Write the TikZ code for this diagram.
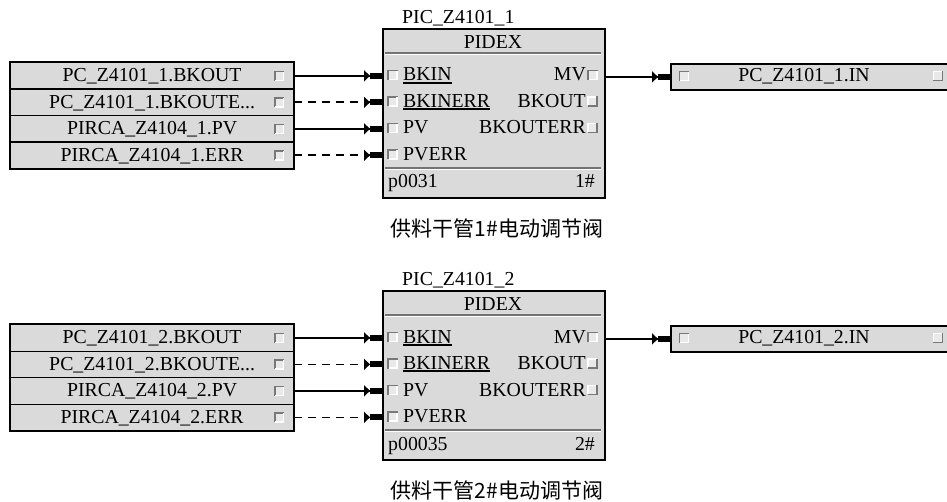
\documentclass[tikz,border=0pt]{standalone}
\usepackage{fontspec}
\setmainfont{Liberation Serif}
\newfontfamily\cjk{Noto Sans CJK SC}
\usetikzlibrary{arrows.meta}
\definecolor{boxgray}{RGB}{218,218,218}
\definecolor{sqdark}{RGB}{120,120,120}
\newcommand\myul[1]{\setbox0\hbox{#1}\rlap{\rule[-2.6pt]{\wd0}{1.8pt}}\box0}
\begin{document}
\begin{tikzpicture}[x=1pt,y=-1pt,
  txt/.style={font=\fontsize{19.8}{20}\selectfont, inner sep=0pt, text height=15pt, text depth=3pt},
  srcbox/.style={txt, draw=black, line width=1.2pt, fill=boxgray, minimum width=283pt, minimum height=26.5pt, anchor=north west},
  outbox/.style={draw=black, line width=1.8pt, fill=boxgray, minimum width=285pt, minimum height=26pt, anchor=north west, inner sep=0pt},
  pidbox/.style={draw=black, line width=2.2pt, fill=boxgray, minimum width=222pt, minimum height=169pt, anchor=north west, inner sep=0pt},
  frame/.style={draw=black, line width=2pt},
  sepdark/.style={draw=black!55, line width=1.3pt},
  seplight/.style={draw=white, line width=1pt},
  conn/.style={draw=black, line width=1.7pt, -{Triangle[length=6pt,width=11pt]Rectangle[length=12pt,width=6pt]}},
  dconn/.style={conn, dash pattern=on 8pt off 6pt},
  sqin/.pic={
    \fill[boxgray!60!white] (-5,-5) rectangle (5,5);
    \draw[sqdark, line width=1.6pt] (-4.5,5) -- (-4.5,-4.5) -- (5,-4.5);
    \draw[white, line width=1.4pt] (4.5,-4) -- (4.5,4.5) -- (-4,4.5);
  },
  sqout/.pic={
    \fill[boxgray!60!white] (-5,-5) rectangle (5,5);
    \draw[white, line width=1.4pt] (-4.5,4) -- (-4.5,-4.5) -- (4,-4.5);
    \draw[sqdark, line width=1.6pt] (4.5,-5) -- (4.5,4.5) -- (-5,4.5);
  }
]
\useasboundingbox (0,0) rectangle (947,502);
\fill[white] (0,0) rectangle (947,502);

\foreach \s/\oy/\pn in {1/0/p0031, 2/262/p00035} {
  % source boxes
  \node[srcbox] (L\s-1) at (10,62+\oy) {PC\_Z4101\_\s.BKOUT};
  \node[srcbox] (L\s-2) at (10,88.5+\oy) {PC\_Z4101\_\s.BKOUTE...};
  \node[srcbox] (L\s-3) at (10,115+\oy) {PIRCA\_Z4104\_\s.PV};
  \node[srcbox] (L\s-4) at (10,141.5+\oy) {PIRCA\_Z4104\_\s.ERR};
  \draw[frame] (L\s-1.north west) rectangle (L\s-4.south east);
  \foreach \k in {1,2,3,4} { \pic at ([xshift=-15pt]L\s-\k.east) {sqin}; }

  % PID block
  \node[txt, anchor=west] (T\s) at (402,18+\oy) {PIC\_Z4101\_\s};
  \node[pidbox] (P\s) at (382,28+\oy) {};
  \node[txt] (P\s-h) at (493,43+\oy) {PIDEX};
  \draw[sepdark] (385,53+\oy) -- (601,53+\oy);
  \draw[seplight] (385,54.6+\oy) -- (601,54.6+\oy);
  \draw[sepdark] (385,168+\oy) -- (601,168+\oy);
  \draw[seplight] (385,169.6+\oy) -- (601,169.6+\oy);
  \node[txt, anchor=west] (P\s-i1) at (403,75+\oy) {\myul{BKIN}};
  \node[txt, anchor=west] (P\s-i2) at (403,101.5+\oy) {\myul{BKINERR}};
  \node[txt, anchor=west] (P\s-i3) at (403,128+\oy) {PV};
  \node[txt, anchor=west] (P\s-i4) at (403,154.5+\oy) {PVERR};
  \node[txt, anchor=east] (P\s-o1) at (586,75+\oy) {MV};
  \node[txt, anchor=east] (P\s-o2) at (586,101.5+\oy) {BKOUT};
  \node[txt, anchor=east] (P\s-o3) at (586,128+\oy) {BKOUTERR};
  \node[txt, anchor=west] (P\s-id) at (388,182+\oy) {\pn};
  \node[txt, anchor=east] (P\s-no) at (595,182+\oy) {\s\#};
  \foreach \yy in {75,101.5,128,154.5} { \pic at (392.5,\yy+\oy) {sqin}; }
  \pic at (592.5,75+\oy) {sqin};
  \pic at (592.5,101.5+\oy) {sqout};
  \pic at (592.5,128+\oy) {sqout};

  % output box
  \node[outbox] (R\s) at (670,63+\oy) {};
  \node[txt] (R\s-t) at (804,76+\oy) {PC\_Z4101\_\s.IN};
  \pic at (684,76+\oy) {sqin};
  \pic at (938,76+\oy) {sqout};

  % caption
  \node[font=\cjk\fontsize{21}{22}\selectfont, inner sep=0pt] (C\s) at (497,228+\oy) {供料干管\s\#电动调节阀};

  % connectors
  \draw[conn] (L\s-1.east) -- (L\s-1.east -| P\s.west);
  \draw[dconn] (L\s-2.east) -- (L\s-2.east -| P\s.west);
  \draw[conn] (L\s-3.east) -- (L\s-3.east -| P\s.west);
  \draw[dconn] (L\s-4.east) -- (L\s-4.east -| P\s.west);
  \draw[conn] (P\s.east |- R\s.west) -- (R\s.west);
}
\end{tikzpicture}
\end{document}
